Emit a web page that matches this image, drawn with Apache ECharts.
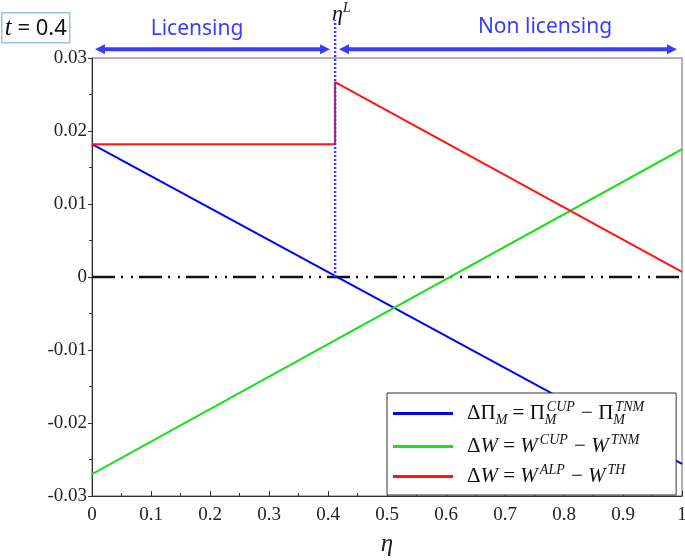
<!DOCTYPE html>
<html>
<head>
<meta charset="utf-8">
<script src="https://cdn.jsdelivr.net/npm/echarts@6/dist/echarts.min.js"></script>
<style>
  html, body { margin: 0; padding: 0; background: #fff; }
  #main { width: 685px; height: 560px; }
</style>
</head>
<body>
<div id="main"></div>
<script>
// threshold between licensing and non licensing
var etaL = 0.412;

// curves (eta, value)
var blueX = [0, 1];
var blueY = [0.0182, -0.0256];
var greenX = [0, 1];
var greenY = [-0.0270, 0.0175];
var redX = [0, etaL, etaL, 1];
var redY = [0.0182, 0.0182, 0.0267, 0.0007];

// zero reference line and eta^L marker
var zeroX = [0, 1];
var zeroY = [0, 0];
var markerY = [0, 0.0352];

// region arrows above the plot
var licArrowX = [0.0135, 0.395];
var nonLicArrowX = [0.427, 0.983];
var arrowY = 0.0312;

var names = ['dPiM', 'dWcup', 'dWalp'];
var legendLabels = {
  dPiM: '{g| }{m|ΔΠ}{sub|M}{m| = Π}{subz|M}{sup|CUP}{m| − Π}{subz|M}{sup|TNM}',
  dWcup: '{g| }{m|Δ}{i|W}{m| = }{i|W}{sup|CUP}{m| − }{i|W}{sup|TNM}',
  dWalp: '{g| }{m|Δ}{i|W}{m| = }{i|W}{sup|ALP}{m| − }{i|W}{sup|TH}'
};

function zip(xs, ys) {
  return xs.map(function (x, i) { return [x, ys[i]]; });
}

var chart = echarts.init(document.getElementById('main'));

var serif = '"Liberation Serif", "DejaVu Serif", serif';
var labelBlue = '#3b3bff';

chart.setOption({
  animation: false,
  backgroundColor: '#fff',
  grid: {
    left: 92, right: 3, top: 58, bottom: 64,
    show: true, borderColor: '#666', borderWidth: 1,
    backgroundColor: 'transparent',
    outerBoundsMode: 'none'
  },
  legend: {
    data: names,
    orient: 'vertical',
    left: 387, top: 393,
    icon: 'rect',
    itemWidth: 60, itemHeight: 3, itemGap: 6,
    padding: [7, 31, 8, 6],
    backgroundColor: '#fff',
    borderColor: '#333', borderWidth: 1,
    formatter: function (name) { return legendLabels[name]; },
    textStyle: {
      rich: {
        g: { fontSize: 10, width: 9 },
        m: { fontFamily: serif, fontSize: 21, lineHeight: 27, color: '#111' },
        i: { fontFamily: serif, fontSize: 21, lineHeight: 27, color: '#111', fontStyle: 'italic' },
        sup: { fontFamily: serif, fontSize: 14, lineHeight: 14, color: '#111', fontStyle: 'italic', verticalAlign: 'top', padding: [0, 1, 0, 2] },
        sub: { fontFamily: serif, fontSize: 14, lineHeight: 12, color: '#111', fontStyle: 'italic', verticalAlign: 'bottom' },
        subz: { fontFamily: serif, fontSize: 14, lineHeight: 12, color: '#111', fontStyle: 'italic', verticalAlign: 'bottom', width: 0 }
      }
    }
  },
  xAxis: {
    type: 'value', min: 0, max: 1, interval: 0.1,
    name: 'η', nameLocation: 'middle', nameGap: 36,
    nameTextStyle: { fontFamily: serif, fontStyle: 'italic', fontSize: 25, color: '#222' },
    axisLine: { onZero: false, lineStyle: { color: '#333', width: 1 } },
    axisTick: { inside: true, length: 5, lineStyle: { color: '#333' } },
    minorTick: { show: true, splitNumber: 2, length: 3, lineStyle: { color: '#333' } },
    splitLine: { show: false },
    axisLabel: { fontFamily: serif, fontSize: 19, color: '#222', margin: 10 }
  },
  yAxis: {
    type: 'value', min: -0.03, max: 0.03, interval: 0.01,
    axisLine: { onZero: false, lineStyle: { color: '#333', width: 1 } },
    axisTick: { length: 4, lineStyle: { color: '#333' } },
    minorTick: { show: true, splitNumber: 2, length: 3, lineStyle: { color: '#333' } },
    splitLine: { show: false },
    axisLabel: { fontFamily: serif, fontSize: 19, color: '#222', margin: 5 }
  },
  series: [
    {
      name: 'zero', type: 'line', symbol: 'none', z: 1,
      data: zip(zeroX, zeroY),
      lineStyle: { color: '#111', width: 2.5, type: [23, 6, 2, 8, 2, 6] }
    },
    {
      name: names[0], type: 'line', symbol: 'none', z: 3,
      data: zip(blueX, blueY),
      lineStyle: { color: '#0000ff', width: 2 }, itemStyle: { color: '#0000ff' }
    },
    {
      name: names[1], type: 'line', symbol: 'none', z: 3,
      data: zip(greenX, greenY),
      lineStyle: { color: '#1ee01e', width: 2 }, itemStyle: { color: '#1ee01e' }
    },
    {
      name: names[2], type: 'line', symbol: 'none', z: 3,
      data: zip(redX, redY),
      lineStyle: { color: '#ff1414', width: 2 }, itemStyle: { color: '#ff1414' }
    },
    {
      name: 'etaL', type: 'line', symbol: 'none', z: 4, clip: false,
      data: zip([etaL, etaL], markerY),
      lineStyle: { color: labelBlue, width: 2.5, type: [2, 2] }
    },
    {
      name: 'lic', type: 'line', z: 4, clip: false,
      data: zip(licArrowX, [arrowY, arrowY]),
      symbol: 'triangle', symbolSize: [10, 10],
      symbolRotate: function (v, p) { return p.dataIndex === 0 ? 90 : -90; },
      lineStyle: { color: labelBlue, width: 4 }, itemStyle: { color: labelBlue }
    },
    {
      name: 'nonlic', type: 'line', z: 4, clip: false,
      data: zip(nonLicArrowX, [arrowY, arrowY]),
      symbol: 'triangle', symbolSize: [10, 10],
      symbolRotate: function (v, p) { return p.dataIndex === 0 ? 90 : -90; },
      lineStyle: { color: labelBlue, width: 4 }, itemStyle: { color: labelBlue }
    }
  ],
  graphic: [
    {
      type: 'text', left: 1, top: 12,
      style: {
        text: '{t|t}{r| = 0.4}',
        borderColor: '#9cc3e6', borderWidth: 1.5, padding: [3, 3, 2, 3],
        rich: {
          t: { fontFamily: serif, fontStyle: 'italic', fontSize: 25, fill: '#111' },
          r: { fontFamily: 'Noto Sans', fontSize: 22, fill: '#111' }
        }
      }
    },
    {
      type: 'text', left: 332, top: 1,
      style: {
        text: '{e|η}{s|L}',
        rich: {
          e: { fontFamily: serif, fontStyle: 'italic', fontSize: 22, fill: '#111', lineHeight: 26 },
          s: { fontFamily: serif, fontStyle: 'italic', fontSize: 14, fill: '#111', verticalAlign: 'top', lineHeight: 14 }
        }
      }
    },
    {
      type: 'text', x: 197, y: 29,
      style: { text: 'Licensing', fontFamily: 'Noto Sans', fontSize: 21, fill: labelBlue, align: 'center', verticalAlign: 'middle' }
    },
    {
      type: 'text', x: 545, y: 27,
      style: { text: 'Non licensing', fontFamily: 'Noto Sans', fontSize: 21, fill: labelBlue, align: 'center', verticalAlign: 'middle' }
    }
  ]
});
</script>
</body>
</html>
